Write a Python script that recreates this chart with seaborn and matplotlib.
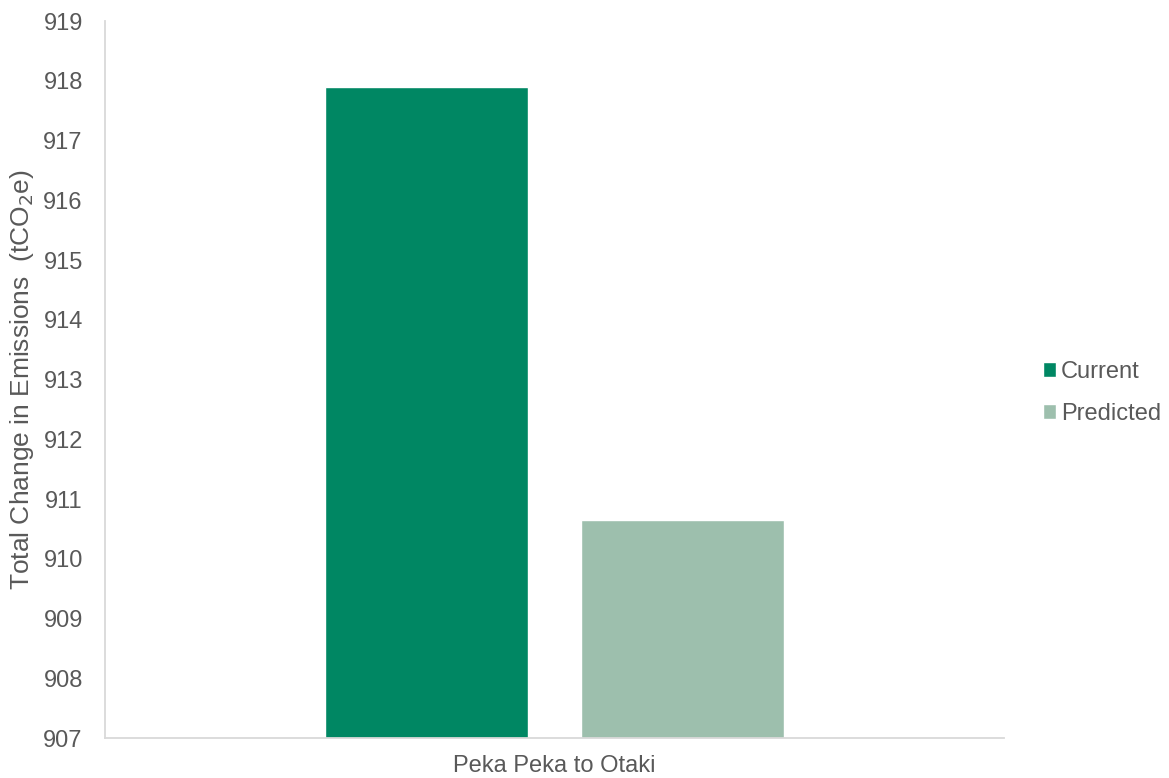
import matplotlib
matplotlib.use("Agg")
import matplotlib.pyplot as plt
import seaborn as sns
import pandas as pd

# Emissions data
categories = ["Peka Peka to Otaki"]
series = ["Current", "Predicted"]
values = [917.89, 910.65]
colors = ["#008763", "#9DBFAD"]
y_ticks = list(range(907, 920))

df = pd.DataFrame({
    "route": categories * len(series),
    "scenario": series,
    "emissions": values,
})

sns.set_theme(style="white")
plt.rcParams["font.family"] = ["Liberation Sans", "DejaVu Sans"]
text_color = "#595959"

fig = plt.figure(figsize=(11.69, 7.78), dpi=100)
ax = fig.add_axes([0.0898, 0.0514, 0.769, 0.9216])

sns.barplot(data=df, x="route", y="emissions", hue="scenario",
            palette=colors, width=0.57, gap=0.21, ax=ax,
            saturation=1, legend=True)

ax.set_ylim(907, 919)
ax.set_yticks(y_ticks)
ax.set_yticklabels([str(t) for t in y_ticks])
ax.set_xlim(-0.5, 0.5)

for s in ["top", "right"]:
    ax.spines[s].set_visible(False)
for s in ["left", "bottom"]:
    ax.spines[s].set_color("#D9D9D9")
    ax.spines[s].set_linewidth(1.3)

ax.tick_params(axis="y", length=0, pad=16, labelsize=17, labelcolor=text_color)
ax.tick_params(axis="x", length=0, pad=12, labelsize=17, labelcolor=text_color)
ax.set_xlabel("")
ax.set_ylabel("Total Change in Emissions  (tCO$_2$e)", fontsize=19,
              color=text_color)
ax.yaxis.set_label_coords(-0.077, 0.5)

handles, labels = ax.get_legend_handles_labels()
ax.get_legend().remove()
fig.legend(handles, labels, loc="center left", bbox_to_anchor=(0.8845, 0.495),
           frameon=False, fontsize=17, labelcolor=text_color,
           handlelength=0.55, handleheight=0.55, handletextpad=0.2,
           labelspacing=0.85, borderaxespad=0)

fig.savefig("out.png", dpi=100)
